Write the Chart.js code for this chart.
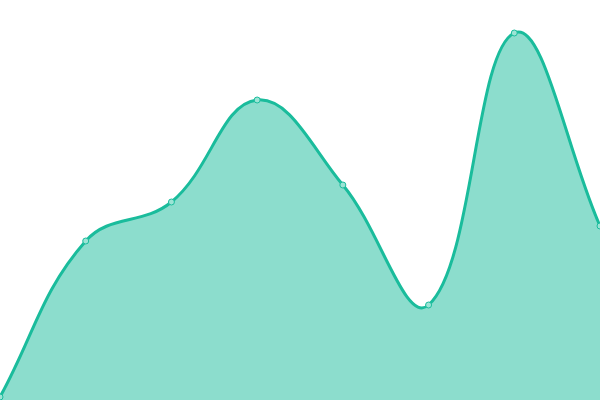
<!DOCTYPE html>
<html>
<head>
<meta charset="utf-8">
<script src="https://cdn.jsdelivr.net/npm/chart.js@4"></script>
<style>
  html, body { margin: 0; padding: 0; background: #fff; }
  #wrap { width: 600px; height: 400px; }
</style>
</head>
<body>
<div id="wrap"><canvas id="areaChart"></canvas></div>
<script>
const labels = ['1', '2', '3', '4', '5', '6', '7', '8'];
const values = [3, 159, 198, 300, 215, 95, 367, 174];
const yMin = 0;
const yMax = 400;

document.addEventListener('DOMContentLoaded', function () {
    const ctx = document.getElementById('areaChart').getContext('2d');

    new Chart(ctx, {
        type: 'line',
        data: {
            labels: labels,
            datasets: [{
                data: values,
                borderColor: '#1abc9c',
                backgroundColor: 'rgba(26, 188, 156, 0.5)',
                borderWidth: 3,
                fill: true,
                tension: 0.4,
                pointRadius: 3,
                pointBorderWidth: 1,
                pointBackgroundColor: '#9ce4d5',
                pointBorderColor: '#1abc9c'
            }]
        },
        options: {
            responsive: true,
            maintainAspectRatio: false,
            animation: false,
            layout: { padding: 0, autoPadding: false },
            scales: {
                x: { display: false, offset: false },
                y: { display: false, min: yMin, max: yMax }
            },
            plugins: {
                legend: { display: false },
                tooltip: { enabled: false }
            }
        }
    });
});
</script>
</body>
</html>
